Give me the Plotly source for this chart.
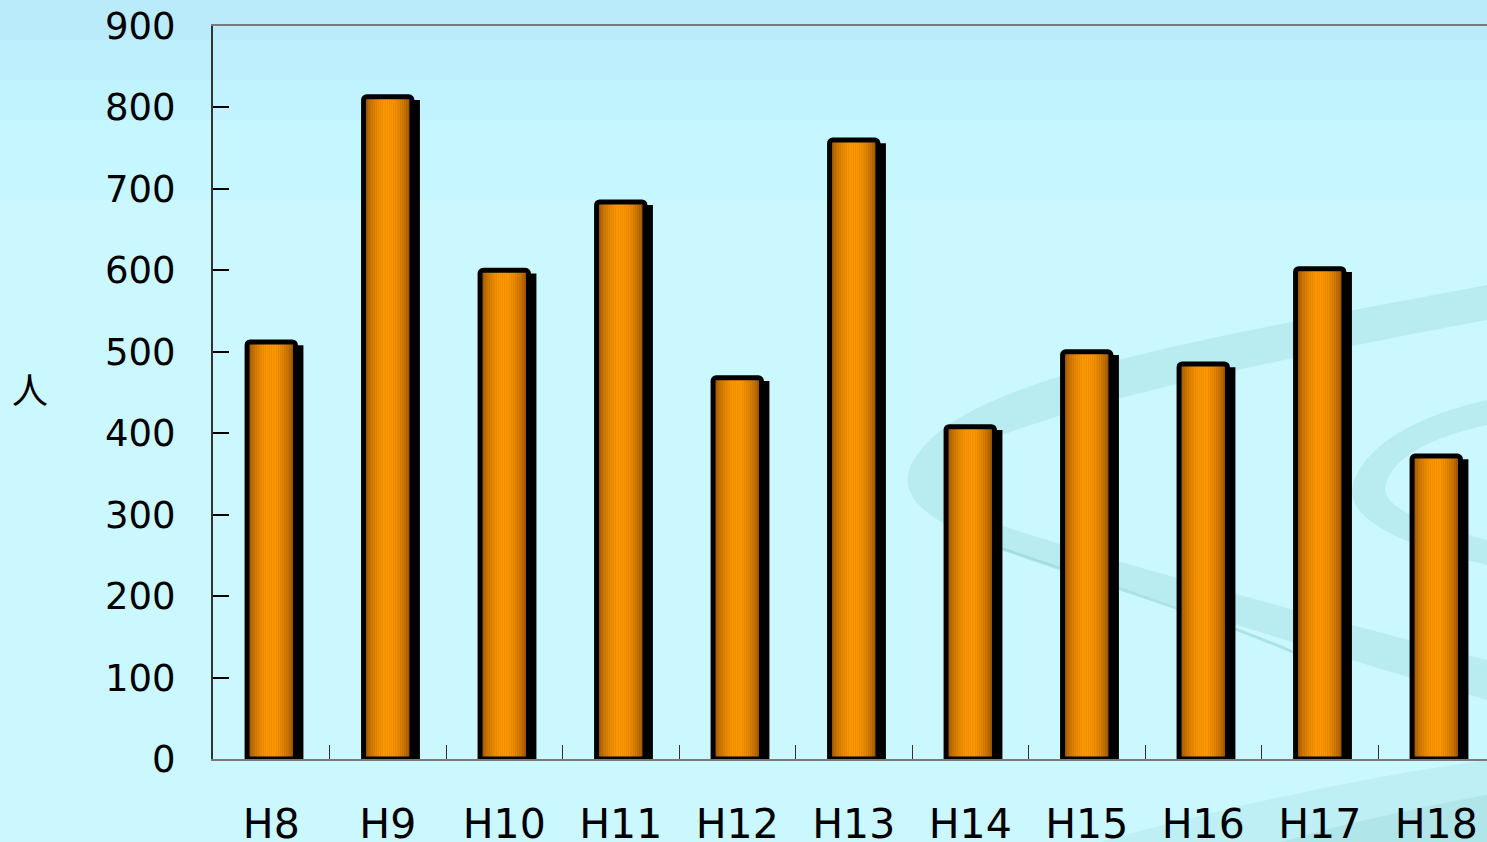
import plotly.graph_objects as go
import math

# ---- data ----
categories = ["H8", "H9", "H10", "H11", "H12", "H13", "H14", "H15", "H16", "H17", "H18"]
values = [512, 813, 600, 684, 468, 760, 408, 500, 485, 602, 372]
y_ticks = [0, 100, 200, 300, 400, 500, 600, 700, 800, 900]
y_label = "人"

# ---- geometry (pixels) ----
W, H = 1487, 842
L, R, T, B = 213, 0, 26, 83
PW = W - L - R
PH = H - T - B

def px(x):
    return (x - L) / PW

def py(y):
    return (H - B - y) / PH

fig = go.Figure()

bar_w = 0.415
slot = 116.5  # px per category
shadow_dx = 5.5 / slot
shadow_dy = 7

# shadow
fig.add_trace(go.Bar(
    x=categories, y=[v - shadow_dy for v in values],
    width=bar_w, offset=-bar_w / 2 + shadow_dx,
    marker=dict(color="black", line=dict(color="black", width=5)),
    hoverinfo="skip", showlegend=False,
))

# gradient strips
N = 26
dark = (140, 75, 0)
bright = (255, 153, 0)
for i in range(N):
    t = (i + 0.5) / N
    k = math.sin(math.pi * t) ** 0.8
    c = tuple(int(dark[j] + (bright[j] - dark[j]) * k) for j in range(3))
    col = f"rgb({c[0]},{c[1]},{c[2]})"
    fig.add_trace(go.Bar(
        x=categories, y=values,
        width=bar_w / N, offset=-bar_w / 2 + i * bar_w / N,
        marker=dict(color=col, line=dict(color=col, width=0.6)),
        hoverinfo="skip", showlegend=False,
    ))

# outline
fig.add_trace(go.Bar(
    x=categories, y=values,
    width=bar_w, offset=-bar_w / 2,
    marker=dict(color="rgba(0,0,0,0)", line=dict(color="black", width=5), cornerradius=3),
    showlegend=False,
))

# ---- background shapes ----
shapes = []
bands = [
    (0, 40, "#b9ebfb"),
    (40, 80, "#bdeffc"),
    (80, 120, "#c1f3fe"),
    (120, 200, "#c6f6ff"),
    (200, 842, "#cbf8ff"),
]
for y0, y1, col in bands:
    shapes.append(dict(type="rect", xref="paper", yref="paper", layer="below",
                       x0=px(0), x1=px(W), y0=py(y1), y1=py(y0),
                       fillcolor=col, line=dict(width=0)))

teal = "rgba(140,205,205,0.28)"
teal2 = "rgba(140,205,205,0.2)"
# big C ribbon
p1 = ("M " + f"{px(1487):.5f},{py(285):.5f}"
      + f" C {px(1250):.5f},{py(330):.5f} {px(1000):.5f},{py(370):.5f} {px(930):.5f},{py(440):.5f}"
      + f" C {px(890):.5f},{py(480):.5f} {px(900):.5f},{py(510):.5f} {px(990):.5f},{py(545):.5f}"
      + f" C {px(1150):.5f},{py(600):.5f} {px(1350):.5f},{py(660):.5f} {px(1487):.5f},{py(700):.5f}"
      + f" L {px(1487):.5f},{py(660):.5f}"
      + f" C {px(1350):.5f},{py(625):.5f} {px(1120):.5f},{py(565):.5f} {px(1000):.5f},{py(525):.5f}"
      + f" C {px(935):.5f},{py(500):.5f} {px(935):.5f},{py(470):.5f} {px(990):.5f},{py(440):.5f}"
      + f" C {px(1100):.5f},{py(395):.5f} {px(1300):.5f},{py(355):.5f} {px(1487):.5f},{py(320):.5f} Z")
shapes.append(dict(type="path", xref="paper", yref="paper", layer="below",
                   path=p1, fillcolor=teal, line=dict(width=0)))
# right C ribbon
p2 = ("M " + f"{px(1487):.5f},{py(400):.5f}"
      + f" C {px(1420):.5f},{py(415):.5f} {px(1360):.5f},{py(445):.5f} {px(1352):.5f},{py(490):.5f}"
      + f" C {px(1350):.5f},{py(525):.5f} {px(1420):.5f},{py(550):.5f} {px(1487):.5f},{py(565):.5f}"
      + f" L {px(1487):.5f},{py(540):.5f}"
      + f" C {px(1430):.5f},{py(525):.5f} {px(1385):.5f},{py(510):.5f} {px(1385):.5f},{py(488):.5f}"
      + f" C {px(1390):.5f},{py(455):.5f} {px(1440):.5f},{py(435):.5f} {px(1487):.5f},{py(425):.5f} Z")
shapes.append(dict(type="path", xref="paper", yref="paper", layer="below",
                   path=p2, fillcolor=teal, line=dict(width=0)))
# thin line
p3 = (f"M {px(1000):.5f},{py(548):.5f}"
      + f" C {px(1120):.5f},{py(590):.5f} {px(1220):.5f},{py(620):.5f} {px(1300):.5f},{py(655):.5f}")
shapes.append(dict(type="path", xref="paper", yref="paper", layer="below",
                   path=p3, line=dict(color="rgba(130,200,200,0.45)", width=3)))
# bottom bands
p4 = (f"M {px(1100):.5f},{py(842):.5f}"
      + f" C {px(1250):.5f},{py(800):.5f} {px(1380):.5f},{py(775):.5f} {px(1487):.5f},{py(760):.5f}"
      + f" L {px(1487):.5f},{py(842):.5f} Z")
shapes.append(dict(type="path", xref="paper", yref="paper", layer="below",
                   path=p4, fillcolor=teal2, line=dict(width=0)))
p5 = (f"M {px(1280):.5f},{py(842):.5f}"
      + f" C {px(1360):.5f},{py(820):.5f} {px(1430):.5f},{py(805):.5f} {px(1487):.5f},{py(795):.5f}"
      + f" L {px(1487):.5f},{py(842):.5f} Z")
shapes.append(dict(type="path", xref="paper", yref="paper", layer="below",
                   path=p5, fillcolor=teal, line=dict(width=0)))

fig.update_layout(
    width=W, height=H,
    margin=dict(l=L, r=R, t=T, b=B, pad=0, autoexpand=False),
    paper_bgcolor="#cbf8ff",
    plot_bgcolor="rgba(0,0,0,0)",
    barmode="overlay",
    shapes=shapes,
    showlegend=False,
    annotations=[dict(text=y_label, xref="paper", yref="paper",
                      x=px(30), y=py(388), xanchor="center", yanchor="middle",
                      showarrow=False,
                      font=dict(family="Noto Sans CJK JP", size=36, color="black"))],
)
fig.update_xaxes(
    type="category", range=[-0.5, -0.5 + PW / slot],
    showline=True, linecolor="#7a7a7a", linewidth=2, mirror=True,
    ticks="inside", ticklen=14, tickcolor="#333", tickwidth=1,
    tickson="boundaries", showgrid=False, automargin=False,
    tickfont=dict(family="DejaVu Sans", size=41, color="black"),
    ticklabelstandoff=28,
)
fig.update_yaxes(
    range=[0, 900], tickvals=y_ticks,
    showline=True, linecolor="#333", linewidth=2,
    ticks="inside", ticklen=16, tickcolor="black", tickwidth=1.5,
    showgrid=False, zeroline=False, automargin=False,
    tickfont=dict(family="DejaVu Sans", size=37, color="black"),
    ticklabelstandoff=28,
)

fig.write_html(
    "out.html",
    config={"displayModeBar": False},
    post_script="document.body.style.margin='0';document.body.style.padding='0';document.body.style.overflow='hidden';",
)
